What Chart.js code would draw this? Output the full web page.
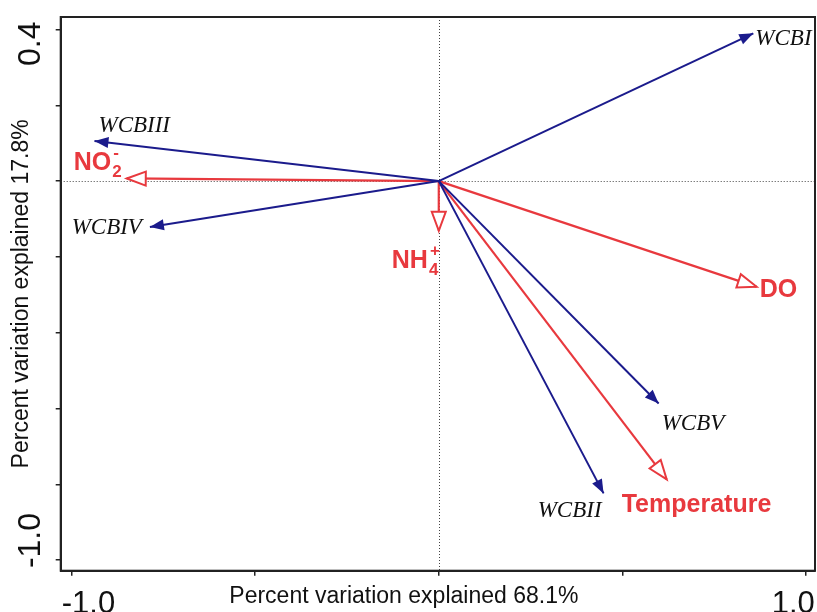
<!DOCTYPE html>
<html>
<head>
<meta charset="utf-8">
<script src="https://cdn.jsdelivr.net/npm/chart.js@4/dist/chart.umd.min.js"></script>
<style>
html, body { margin: 0; padding: 0; background: #fff; }
#wrap { width: 817px; height: 612px; }
</style>
</head>
<body>
<div id="wrap"><canvas id="rda"></canvas></div>
<script>
// species (blue arrows)
const bioNames = ['WCBI', 'WCBII', 'WCBIII', 'WCBIV', 'WCBV']
const bioX = [0.857, 0.449, -0.938, -0.787, 0.599]
const bioY = [0.390, -0.824, 0.106, -0.121, -0.587]

// environmental variables (red arrows)
const envNames = ['NO', 'NH', 'DO', 'Temperature']
const envSub = ['2', '4', '', '']
const envSup = ['-', '+', '', '']
const envX = [-0.850, 0.0, 0.866, 0.621]
const envY = [0.007, -0.131, -0.279, -0.787]

const xTicks = [-1, -0.5, 0, 0.5, 1]
const xTickLabels = ['-1.0', '', '', '', '1.0']
const yTicks = [0.4, 0.2, 0, -0.2, -0.4, -0.6, -0.8, -1.0]
const yTickLabels = ['0.4', '', '', '', '', '', '', '-1.0']
const xTitle = 'Percent variation explained 68.1%'
const yTitle = 'Percent variation explained 17.8%'

const blue = '#1b1b8c'
const red = '#e8393e'
const sans = 'Arial, "Liberation Sans", sans-serif'
const serif = '"Liberation Serif", "Times New Roman", serif'

// where each label sits relative to its arrow tip
const bioLabelPos = [
	{ dx: 2, dy: 12, align: 'left' },
	{ dx: -2, dy: 24, align: 'right' },
	{ dx: 4, dy: -9, align: 'left' },
	{ dx: -8, dy: 7, align: 'right' },
	{ dx: 3, dy: 26, align: 'left' },
]
const envLabelPos = [
	{ dx: -53, dy: -8 },
	{ dx: -47, dy: 37 },
	{ dx: 3, dy: 10 },
	{ dx: -45, dy: 33 },
]

let datasets = []
for (let i = 0; i < bioNames.length; i++) {
	datasets.push({
		kind: 'bio',
		idx: i,
		data: [{ x: 0, y: 0 }, { x: bioX[i], y: bioY[i] }],
		borderColor: blue,
		borderWidth: 2,
	})
}
for (let i = 0; i < envNames.length; i++) {
	datasets.push({
		kind: 'env',
		idx: i,
		data: [{ x: 0, y: 0 }, { x: envX[i], y: envY[i] }],
		borderColor: red,
		borderWidth: 2.2,
	})
}
datasets.forEach(function (ds) {
	ds.showLine = true
	ds.pointRadius = 0
	ds.fill = false
	ds.clip = false
})

function drawHead(ctx, x, y, ang, len, half, filled, color) {
	let bx = x - len * Math.cos(ang)
	let by = y - len * Math.sin(ang)
	let nx = -Math.sin(ang) * half
	let ny = Math.cos(ang) * half
	ctx.beginPath()
	ctx.moveTo(x, y)
	ctx.lineTo(bx + nx, by + ny)
	ctx.lineTo(bx - nx, by - ny)
	ctx.closePath()
	if (filled) {
		ctx.fillStyle = color
		ctx.fill()
	} else {
		ctx.fillStyle = '#fff'
		ctx.fill()
		ctx.strokeStyle = color
		ctx.lineWidth = 2
		ctx.stroke()
	}
}

const biplot = {
	id: 'biplot',
	beforeDatasetsDraw(chart) {
		const ctx = chart.ctx
		const a = chart.chartArea
		const x0 = Math.round(chart.scales.x.getPixelForValue(0)) + 0.5
		const y0 = Math.round(chart.scales.y.getPixelForValue(0)) + 0.5
		ctx.save()
		ctx.strokeStyle = '#444'
		ctx.lineWidth = 1
		ctx.setLineDash([1, 2])
		ctx.beginPath()
		ctx.moveTo(x0, a.top)
		ctx.lineTo(x0, a.bottom)
		ctx.moveTo(a.left, y0)
		ctx.lineTo(a.right, y0)
		ctx.stroke()
		ctx.restore()
	},
	afterDatasetsDraw(chart) {
		const ctx = chart.ctx
		ctx.save()
		chart.data.datasets.forEach(function (ds, i) {
			const pts = chart.getDatasetMeta(i).data
			const p0 = pts[0]
			const p1 = pts[1]
			const ang = Math.atan2(p1.y - p0.y, p1.x - p0.x)
			if (ds.kind === 'bio') {
				drawHead(ctx, p1.x, p1.y, ang, 14, 5.5, true, blue)
				const pos = bioLabelPos[ds.idx]
				ctx.font = 'italic 23px ' + serif
				ctx.fillStyle = '#111'
				ctx.textAlign = pos.align
				ctx.textBaseline = 'alphabetic'
				ctx.fillText(bioNames[ds.idx], p1.x + pos.dx, p1.y + pos.dy)
			} else {
				drawHead(ctx, p1.x, p1.y, ang, 19, 7, false, red)
				const pos = envLabelPos[ds.idx]
				const lx = p1.x + pos.dx
				const ly = p1.y + pos.dy
				ctx.fillStyle = red
				ctx.textAlign = 'left'
				ctx.textBaseline = 'alphabetic'
				ctx.font = 'bold 25px ' + sans
				ctx.fillText(envNames[ds.idx], lx, ly)
				const w = ctx.measureText(envNames[ds.idx]).width
				ctx.font = 'bold 17px ' + sans
				if (envSub[ds.idx]) ctx.fillText(envSub[ds.idx], lx + w + 1, ly + 7)
				if (envSup[ds.idx]) ctx.fillText(envSup[ds.idx], lx + w + 2, ly - 12)
			}
		})
		ctx.restore()
	},
	afterDraw(chart) {
		const ctx = chart.ctx
		const a = chart.chartArea
		const xs = chart.scales.x
		const ys = chart.scales.y
		ctx.save()
		ctx.strokeStyle = '#222'
		ctx.lineWidth = 2
		ctx.strokeRect(a.left, a.top, a.right - a.left, a.bottom - a.top)

		// tick labels, pushed inward at the ends like the original
		ctx.fillStyle = '#111'
		ctx.font = '31px ' + sans
		ctx.textBaseline = 'alphabetic'
		xTicks.forEach(function (v, i) {
			if (!xTickLabels[i]) return
			const px = xs.getPixelForValue(v)
			if (i === 0) {
				ctx.textAlign = 'left'
				ctx.fillText(xTickLabels[i], px - 10, a.bottom + 42)
			} else {
				ctx.textAlign = 'right'
				ctx.fillText(xTickLabels[i], px + 9, a.bottom + 42)
			}
		})

		// x title sits between the two end labels, a bit left of centre
		ctx.font = '23px ' + sans
		ctx.textAlign = 'center'
		ctx.fillText(xTitle, (a.left + a.right) / 2 - 34, a.bottom + 32)

		ctx.font = '32px ' + sans
		ctx.textBaseline = 'middle'
		yTicks.forEach(function (v, i) {
			if (!yTickLabels[i]) return
			const py = ys.getPixelForValue(v)
			ctx.save()
			ctx.translate(a.left - 30, py)
			ctx.rotate(-Math.PI / 2)
			if (i === 0) {
				ctx.textAlign = 'right'
				ctx.fillText(yTickLabels[i], 8, 0)
			} else {
				ctx.textAlign = 'left'
				ctx.fillText(yTickLabels[i], -8, 0)
			}
			ctx.restore()
		})
		ctx.restore()
	},
}

new Chart(document.getElementById('rda'), {
	type: 'scatter',
	data: { datasets: datasets },
	options: {
		responsive: true,
		maintainAspectRatio: false,
		animation: false,
		layout: { padding: { top: 17, right: 2, left: 0, bottom: 36.3 } },
		plugins: {
			legend: { display: false },
			tooltip: { enabled: false },
		},
		scales: {
			x: {
				type: 'linear',
				min: -1.03,
				max: 1.025,
				afterBuildTicks: function (s) {
					s.ticks = xTicks.map(function (v) { return { value: v } })
				},
				ticks: { display: false },
				grid: { drawOnChartArea: false, drawTicks: true, tickLength: 5, color: '#222', lineWidth: 1.5 },
				border: { display: true, color: '#222', width: 2 },
				title: { display: false },
			},
			y: {
				type: 'linear',
				min: -1.028,
				max: 0.433,
				afterBuildTicks: function (s) {
					s.ticks = yTicks.map(function (v) { return { value: v } })
				},
				ticks: { display: false },
				grid: { drawOnChartArea: false, drawTicks: true, tickLength: 5, color: '#222', lineWidth: 1.5 },
				border: { display: true, color: '#222', width: 2 },
				title: {
					display: true,
					text: yTitle,
					color: '#111',
					font: { family: sans, size: 23 },
					padding: { top: 8, bottom: 20.1 },
				},
			},
		},
	},
	plugins: [biplot],
})
</script>
</body>
</html>
